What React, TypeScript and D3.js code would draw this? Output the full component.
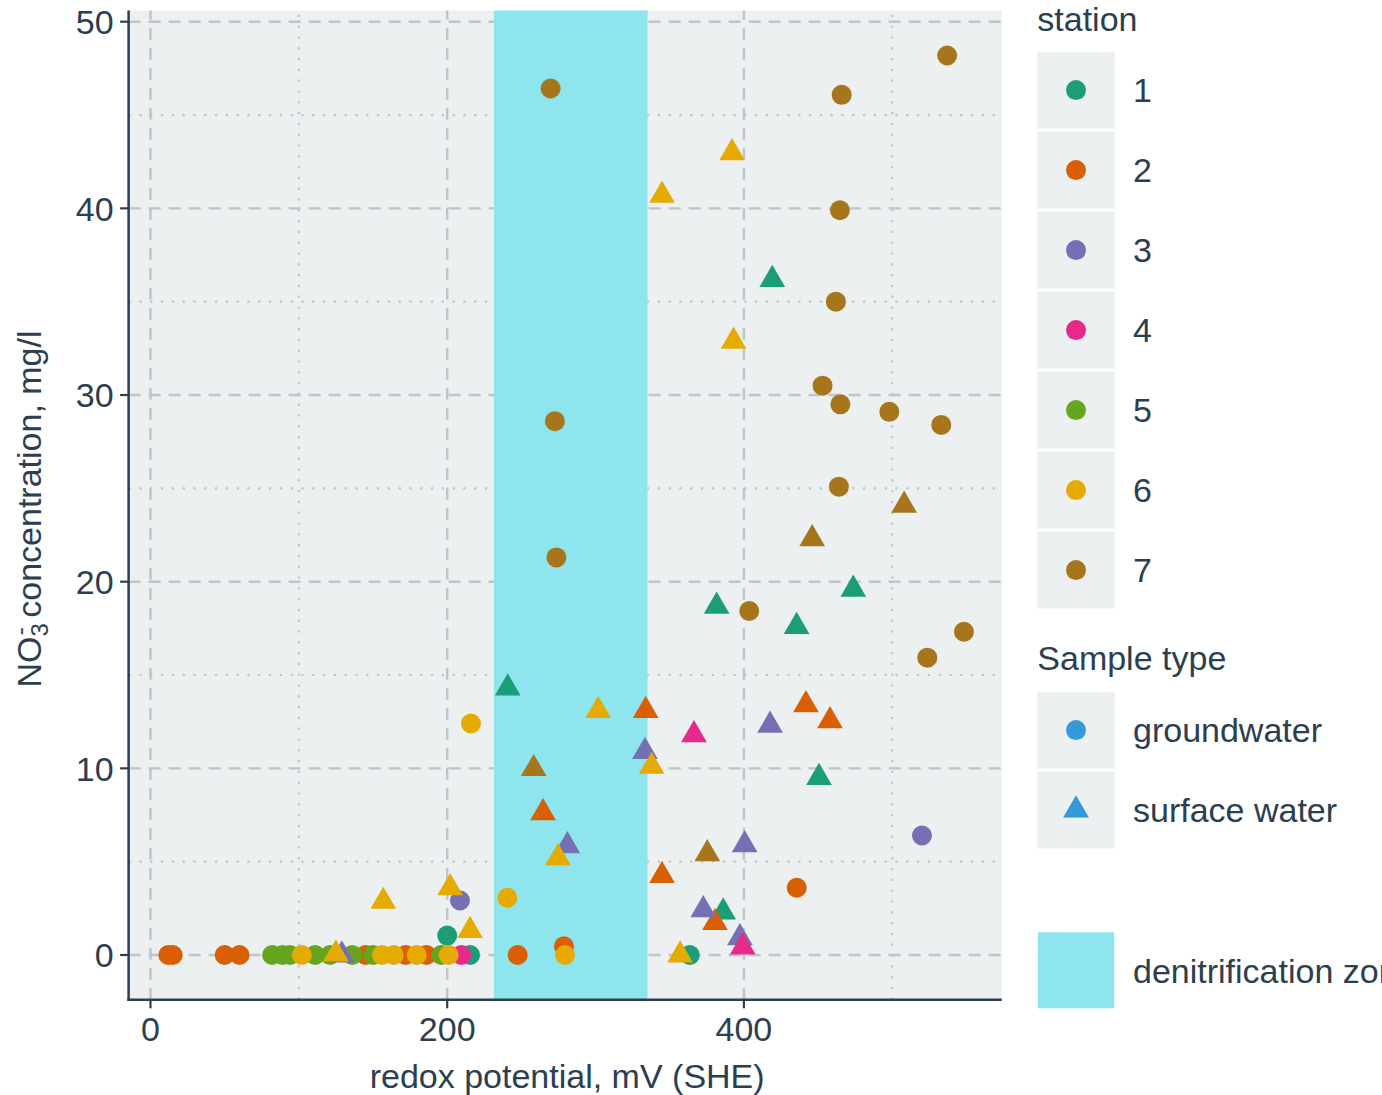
import React from 'react';
import * as d3 from 'd3';

const stationIds = ['1', '2', '3', '4', '5', '6', '7'];
const stationColors = ['#1B9E77', '#D95F02', '#7570B3', '#E7298A', '#66A61E', '#E6AB02', '#A6761D'];
const sampleTypes = ['groundwater', 'surface water'];
const sampleKeyColor = '#3498DB';
const zoneLabel = 'denitrification zone';
const denitZone = [231.5, 335];

// groundwater samples (circles)
const gwStation = [
  1, 1, 1,
  2, 2, 2, 2, 2, 2, 2, 2, 2, 2,
  3, 3,
  4,
  5, 5, 5, 5, 5, 5, 5, 5,
  6, 6, 6, 6, 6, 6, 6, 6,
  7, 7, 7, 7, 7, 7, 7, 7, 7, 7, 7, 7, 7, 7, 7,
];
const gwRedox = [
  200, 215.4, 363.5,
  12, 15, 50, 60, 145, 172, 186, 247.5, 278.7, 435.6,
  208.6, 520,
  209.5,
  82, 89, 94, 111, 121, 136, 150, 196,
  102, 156, 164, 179.4, 201, 279.4, 240.5, 216,
  269.7, 272.6, 273.6, 537, 465.9, 464.7, 462, 453, 465, 498, 533, 464, 403.6, 548.3, 523.6,
];
const gwNitrate = [
  1.04, 0, 0,
  0, 0, 0, 0, 0, 0, 0, 0, 0.47, 3.6,
  2.92, 6.4,
  0,
  0, 0, 0, 0, 0, 0, 0, 0,
  0, 0, 0, 0, 0, 0, 3.07, 12.4,
  46.42, 28.6, 21.3, 48.19, 46.08, 39.9, 35.0, 30.5, 29.5, 29.1, 28.4, 25.09, 18.43, 17.32, 15.93,
];

// surface water samples (triangles)
const swStation = [
  1, 1, 1, 1, 1, 1, 1,
  2, 2, 2, 2, 2, 2,
  3, 3, 3, 3, 3, 3, 3,
  4, 4,
  6, 6, 6, 6, 6, 6, 6, 6, 6, 6, 6,
  7, 7, 7, 7,
];
const swRedox = [
  240.8, 419.1, 381.6, 435.5, 473.7, 450.6, 386,
  264.6, 333.8, 344.8, 380.5, 441.8, 458,
  129, 281, 333.3, 372.6, 397.3, 400.5, 417.6,
  366.3, 399.2,
  125, 156.9, 202, 215.4, 274.7, 301.8, 337.8, 344.8, 357, 392, 393,
  258.3, 375.3, 446, 508,
];
const swNitrate = [
  14.3, 36.18, 18.68, 17.59, 19.59, 9.5, 2.3,
  7.62, 13.1, 4.26, 1.73, 13.4, 12.55,
  0, 5.85, 10.9, 2.42, 0.92, 5.9, 12.3,
  11.8, 0.42,
  0.05, 2.87, 3.6, 1.31, 5.21, 13.1, 10.1, 40.7, 0, 42.97, 32.88,
  9.98, 5.42, 22.3, 24.09,
];

const xMajor = [0, 200, 400];
const xMinor = [100, 300, 500];
const yMajor = [0, 10, 20, 30, 40, 50];
const yMinor = [5, 15, 25, 35, 45];

const W = 1382;
const H = 1095;
const FONT = 'Liberation Sans, Arial, Helvetica, sans-serif';
const TEXT = '#2C3E50';
const PANEL = '#ECF0F1';
const GRID = '#BFC4C9';
const ZONE = '#8EE5EE';
const FS = 34;

const triPath = (cx: number, cy: number) => {
  const r = 14.8;
  const yc = 7.4;
  const hw = 12.85;
  return `M${cx},${cy - r}L${cx + hw},${cy + yc}L${cx - hw},${cy + yc}Z`;
};

export default function App() {
  const x = d3.scaleLinear().domain([-14.75, 573.75]).range([128.6, 1001.7]);
  const y = d3.scaleLinear().domain([-2.4, 50.6]).range([999.8, 10.5]);
  const [x0, x1] = x.range();
  const [y0, y1] = y.range();

  const gw = gwRedox.map((v, i) => ({ x: v, y: gwNitrate[i], s: gwStation[i] }));
  const sw = swRedox.map((v, i) => ({ x: v, y: swNitrate[i], s: swStation[i] }));

  const lx = 1037.3;
  const kw = 77.4;
  const kh = 76.8;
  const pitch = 80;
  const stTop = 51.7;
  const stTypeTop = 691.7;

  return (
    <svg
      width={W}
      height={H}
      style={{ position: 'absolute', left: 0, top: 0, background: '#fff' }}
      fontFamily={FONT}
    >
      <rect x={0} y={0} width={W} height={H} fill="#fff" />
      {/* panel */}
      <rect x={x0} y={y1} width={x1 - x0} height={y0 - y1} fill={PANEL} />
      {/* minor grid */}
      {yMinor.map((t) => (
        <line key={'ym' + t} x1={x0} x2={x1} y1={y(t)} y2={y(t)} stroke={GRID} strokeWidth={2.2} strokeDasharray="2.2 8.6" />
      ))}
      {xMinor.map((t) => (
        <line key={'xm' + t} y1={y0} y2={y1} x1={x(t)} x2={x(t)} stroke={GRID} strokeWidth={2.2} strokeDasharray="2.2 8.6" />
      ))}
      {/* major grid */}
      {yMajor.map((t) => (
        <line key={'yM' + t} x1={x0} x2={x1} y1={y(t)} y2={y(t)} stroke={GRID} strokeWidth={2.4} strokeDasharray="12 8" />
      ))}
      {xMajor.map((t) => (
        <line key={'xM' + t} y1={y0} y2={y1} x1={x(t)} x2={x(t)} stroke={GRID} strokeWidth={2.4} strokeDasharray="12 8" />
      ))}
      {/* denitrification zone */}
      <rect x={x(denitZone[0])} y={y1} width={x(denitZone[1]) - x(denitZone[0])} height={y0 - y1} fill={ZONE} />
      {/* points */}
      {gw.map((d, i) => (
        <circle key={'g' + i} cx={x(d.x)} cy={y(d.y)} r={10} fill={stationColors[d.s - 1]} />
      ))}
      {sw.map((d, i) => (
        <path key={'s' + i} d={triPath(x(d.x), y(d.y))} fill={stationColors[d.s - 1]} />
      ))}
      {/* axes */}
      <line x1={x0} x2={x0} y1={y1} y2={y0 + 1.2} stroke={TEXT} strokeWidth={2.5} />
      <line x1={x0 - 1.2} x2={x1} y1={y0} y2={y0} stroke={TEXT} strokeWidth={2.5} />
      {yMajor.map((t) => (
        <g key={'yt' + t}>
          <line x1={x0 - 8.5} x2={x0} y1={y(t)} y2={y(t)} stroke={TEXT} strokeWidth={2.2} />
          <text x={x0 - 15} y={y(t)} dy="0.36em" textAnchor="end" fontSize={FS} fill={TEXT}>
            {t}
          </text>
        </g>
      ))}
      {xMajor.map((t) => (
        <g key={'xt' + t}>
          <line x1={x(t)} x2={x(t)} y1={y0} y2={y0 + 8.5} stroke={TEXT} strokeWidth={2.2} />
          <text x={x(t)} y={1041} textAnchor="middle" fontSize={FS} fill={TEXT}>
            {t}
          </text>
        </g>
      ))}
      {/* axis titles */}
      <text x={(x0 + x1) / 2 + 2} y={1088} textAnchor="middle" fontSize={FS} fill={TEXT}>
        redox potential, mV (SHE)
      </text>
      <text transform={`translate(41,509) rotate(-90)`} textAnchor="middle" fontSize={FS} fill={TEXT}>
        NO
        <tspan fontSize={24} dy={7}>3</tspan>
        <tspan fontSize={24} dx={-12} dy={-20}>-</tspan>
        <tspan dy={13}> concentration, mg/l</tspan>
      </text>
      {/* legend: station */}
      <text x={lx} y={31} fontSize={FS} fill={TEXT}>
        station
      </text>
      {stationIds.map((s, i) => {
        const top = stTop + i * pitch;
        return (
          <g key={'ls' + s}>
            <rect x={lx} y={top} width={kw} height={kh} fill={PANEL} />
            <circle cx={lx + kw / 2} cy={top + kh / 2} r={10} fill={stationColors[i]} />
            <text x={1133} y={top + kh / 2} dy="0.36em" fontSize={FS} fill={TEXT}>
              {s}
            </text>
          </g>
        );
      })}
      {/* legend: sample type */}
      <text x={lx} y={670} fontSize={FS} fill={TEXT}>
        Sample type
      </text>
      {sampleTypes.map((s, i) => {
        const top = stTypeTop + i * pitch;
        const cx = lx + kw / 2;
        const cy = top + kh / 2;
        return (
          <g key={'lt' + s}>
            <rect x={lx} y={top} width={kw} height={kh} fill={PANEL} />
            {i === 0 ? (
              <circle cx={cx} cy={cy} r={10} fill={sampleKeyColor} />
            ) : (
              <path d={triPath(cx, cy)} fill={sampleKeyColor} />
            )}
            <text x={1133} y={cy} dy="0.36em" fontSize={FS} fill={TEXT}>
              {s}
            </text>
          </g>
        );
      })}
      {/* legend: zone */}
      <rect x={lx + 0.5} y={932.3} width={kw - 1} height={76} fill={ZONE} />
      <text x={1133} y={970.3} dy="0.36em" fontSize={FS} fill={TEXT}>
        {zoneLabel}
      </text>
    </svg>
  );
}
